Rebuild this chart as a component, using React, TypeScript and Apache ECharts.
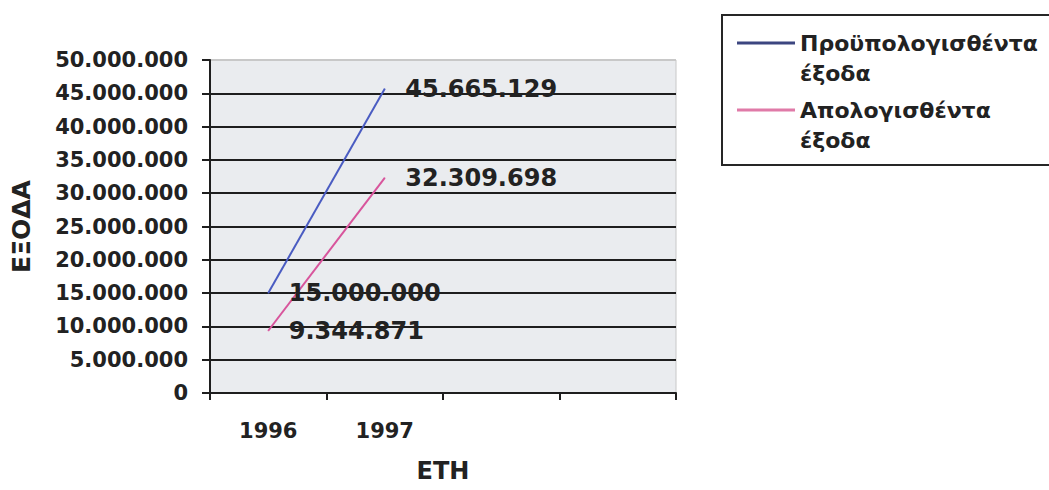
import React, { useEffect, useRef } from "react";
import * as echarts from "echarts";

const categories = ["1996", "1997", "", ""];
const budgeted = [15000000, 45665129];
const actual = [9344871, 32309698];
const seriesNames = ["Προϋπολογισθέντα έξοδα", "Απολογισθέντα έξοδα"];
const legendLines = [
  ["Προϋπολογισθέντα", "έξοδα"],
  ["Απολογισθέντα", "έξοδα"],
];
const yAxisTitle = "ΕΞΟΔΑ";
const xAxisTitle = "ΕΤΗ";

const FONT = "DejaVu Sans";
const TEXT = "#222222";
const BLUE = "#4a5cc2";
const PINK = "#d8559c";

const fmt = (v: number) =>
  String(Math.round(v)).replace(/\B(?=(\d{3})+(?!\d))/g, ".");

export default function App() {
  const ref = useRef<HTMLDivElement>(null);
  useEffect(() => {
    if (!ref.current) return;
    const chart = echarts.init(ref.current, null, { renderer: "svg" });
    const gridColors = Array.from({ length: 11 }, (_, i) =>
      i === 10 ? "#c8c8c8" : "#1e1e1e"
    );
    const labelStyle = {
      show: true,
      position: "right" as const,
      distance: 20,
      formatter: (p: any) => fmt(p.value),
      fontFamily: FONT,
      fontWeight: "bold" as const,
      fontSize: 24,
      color: TEXT,
    };
    chart.setOption({
      animation: false,
      backgroundColor: "#ffffff",
      grid: {
        left: 210,
        top: 60,
        right: 373,
        bottom: 97,
        containLabel: false,
        outerBoundsMode: "none",
        show: true,
        backgroundColor: "#eaecef",
        borderColor: "#c8c8c8",
        borderWidth: 1,
      },
      xAxis: {
        type: "category",
        data: categories,
        boundaryGap: true,
        name: xAxisTitle,
        nameLocation: "middle",
        nameGap: 66,
        nameTextStyle: {
          fontFamily: FONT,
          fontWeight: "bold",
          fontSize: 24,
          color: TEXT,
        },
        axisLine: { lineStyle: { color: "#1e1e1e", width: 2 } },
        axisTick: { show: true, length: 7, lineStyle: { color: "#1e1e1e", width: 2 } },
        axisLabel: {
          margin: 27,
          fontFamily: FONT,
          fontWeight: "bold",
          fontSize: 21,
          color: TEXT,
        },
        splitLine: { show: false },
      },
      yAxis: {
        type: "value",
        min: 0,
        max: 50000000,
        interval: 5000000,
        name: yAxisTitle,
        nameLocation: "middle",
        nameRotate: 90,
        nameGap: 176,
        nameTextStyle: {
          fontFamily: FONT,
          fontWeight: "bold",
          fontSize: 25,
          color: TEXT,
        },
        axisLine: { show: true, lineStyle: { color: "#1e1e1e", width: 2 } },
        axisTick: { show: true, length: 8, lineStyle: { color: "#1e1e1e", width: 2 } },
        axisLabel: {
          margin: 22,
          formatter: (v: number) => fmt(v),
          fontFamily: FONT,
          fontWeight: "bold",
          fontSize: 21,
          color: TEXT,
        },
        splitLine: { show: true, lineStyle: { color: gridColors, width: 2 } },
      },
      series: [
        {
          name: seriesNames[0],
          type: "line",
          data: budgeted,
          symbol: "circle",
          symbolSize: 1,
          showSymbol: true,
          lineStyle: { color: BLUE, width: 2 },
          itemStyle: { color: BLUE },
          label: labelStyle,
        },
        {
          name: seriesNames[1],
          type: "line",
          data: actual,
          symbol: "circle",
          symbolSize: 1,
          showSymbol: true,
          lineStyle: { color: PINK, width: 2 },
          itemStyle: { color: PINK },
          label: labelStyle,
        },
      ],
      graphic: [
        {
          type: "rect",
          shape: { x: 722, y: 15, width: 400, height: 150 },
          style: { fill: "#ffffff", stroke: "#262626", lineWidth: 2 },
        },
        {
          type: "line",
          shape: { x1: 737, y1: 43, x2: 795, y2: 43 },
          style: { stroke: "#3c4680", lineWidth: 3 },
        },
        {
          type: "line",
          shape: { x1: 737, y1: 110, x2: 795, y2: 110 },
          style: { stroke: "#e07aa8", lineWidth: 3 },
        },
        ...legendLines.flatMap((lines, i) =>
          lines.map((t, j) => ({
            type: "text",
            x: 800,
            y: 43 + i * 67 + j * 30,
            style: {
              text: t,
              fontFamily: FONT,
              fontWeight: "bold",
              fontSize: 22,
              fill: TEXT,
              verticalAlign: "middle",
              align: "left",
            },
          }))
        ),
      ],
    });
    return () => chart.dispose();
  }, []);
  return (
    <div
      ref={ref}
      style={{ position: "fixed", left: 0, top: 0, width: 1049, height: 490 }}
    />
  );
}
